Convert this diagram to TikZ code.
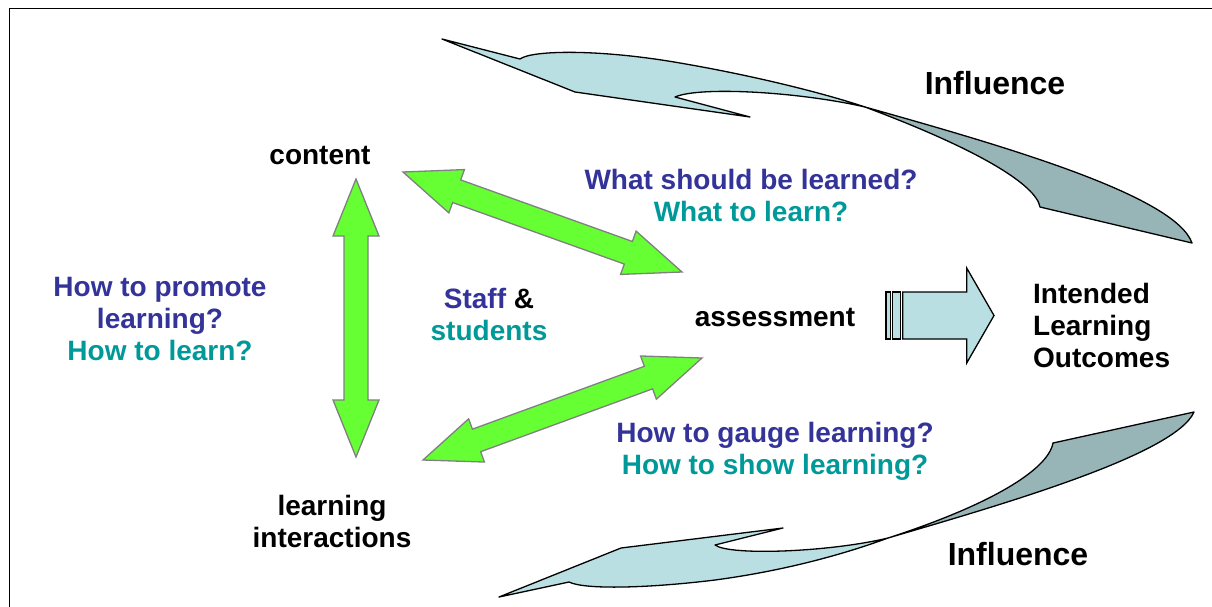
\documentclass[tikz,border=0pt]{standalone}
\usepackage{fontspec}
\setmainfont{Liberation Sans}
\usetikzlibrary{calc}
\definecolor{qblue}{HTML}{333399}
\definecolor{qteal}{HTML}{009999}
\definecolor{agreen}{HTML}{66FF33}
\definecolor{agray}{HTML}{808080}
\definecolor{palecyan}{HTML}{B9DFE3}
\definecolor{duskteal}{HTML}{97B4B7}
\tikzset{
  lbl/.style={inner sep=0pt, font=\fontsize{28}{32}\selectfont\bfseries, align=center},
  infl/.style={inner sep=0pt, font=\fontsize{32}{36}\selectfont\bfseries},
  garrow/.style={fill=agreen, draw=agray, line width=1.3pt, line join=miter},
  blockarr/.style={fill=palecyan, draw=black, line width=1.3pt},
  curvelight/.style={fill=palecyan, draw=black, line width=1.3pt, line join=round},
  curvedark/.style={fill=duskteal, draw=black, line width=1.3pt, line join=round}
}
\newcommand\greenarrow[2]{%
  \filldraw[garrow] (#1)
   -- ($(#1)!57pt!(#2)!23pt!90:(#2)$)
   -- ($(#1)!57pt!(#2)!12pt!90:(#2)$)
   -- ($(#2)!57pt!(#1)!12pt!-90:(#1)$)
   -- ($(#2)!57pt!(#1)!23pt!-90:(#1)$)
   -- (#2)
   -- ($(#2)!57pt!(#1)!23pt!90:(#1)$)
   -- ($(#2)!57pt!(#1)!12pt!90:(#1)$)
   -- ($(#1)!57pt!(#2)!12pt!-90:(#2)$)
   -- ($(#1)!57pt!(#2)!23pt!-90:(#2)$)
   -- cycle;}
\begin{document}
\begin{tikzpicture}[x=1pt,y=-1pt]
\useasboundingbox (0,0) rectangle (1212,606);
\clip (0,0) rectangle (1212,606);
\fill[white] (0,0) rectangle (1212,606);
% frame
\draw[line width=1.8pt] (9.5,8.5) rectangle (1240,640);

% top curved "influence" arrow
\filldraw[curvelight] (442,39) -- (520,59)
  .. controls (532,50) and (600,49) .. (680,63)
  .. controls (750,75) and (820,92) .. (865,107)
  .. controls (800,92) and (700,86) .. (675,97)
  -- (750,117) -- (575,92) -- cycle;
\filldraw[curvedark] (865,107)
  .. controls (1000,145) and (1175,195) .. (1192,243)
  -- (1040,207)
  .. controls (1036,185) and (980,150) .. (865,107) -- cycle;

% bottom curved "influence" arrow
\filldraw[curvelight] (499,597) -- (569,582)
  .. controls (585,590) and (650,588) .. (715,580)
  .. controls (790,570) and (850,552) .. (888,538)
  .. controls (830,552) and (730,556) .. (715,545)
  -- (783,528) -- (621,548) -- cycle;
\filldraw[curvedark] (888,538)
  .. controls (1000,505) and (1175,455) .. (1194,412)
  -- (1053,443)
  .. controls (1048,470) and (990,505) .. (888,538) -- cycle;

% text nodes
\node[lbl] (content) at (320,155) {content};
\node[lbl] (assess) at (775,317) {assessment};
\node[lbl] (interact) at (332,521) {learning\\interactions};
\node[lbl, align=left, anchor=west] (ilo) at (1033,325) {Intended\\Learning\\Outcomes};
\node[lbl] (promote) at (160,319) {\textcolor{qblue}{How to promote}\\\textcolor{qblue}{learning?}\\\textcolor{qteal}{How to learn?}};
\node[lbl] (staff) at (489,314) {\textcolor{qblue}{Staff} \&\\\textcolor{qteal}{students}};
\node[lbl] (what) at (751,195) {\textcolor{qblue}{What should be learned?}\\\textcolor{qteal}{What to learn?}};
\node[lbl] (gauge) at (775,451) {\textcolor{qblue}{How to gauge learning?}\\\textcolor{qteal}{How to show learning?}};
\node[infl] (inflA) at (995,83) {Influence};
\node[infl] (inflB) at (1018,554) {Influence};

% green double arrows
\coordinate (vTop) at (356,179);
\coordinate (vBot) at (356,457);
\coordinate (dTopL) at (403,172);
\coordinate (dTopR) at (682,272);
\coordinate (dBotR) at (702,358);
\coordinate (dBotL) at (423,460);
\greenarrow{vTop}{vBot}
\greenarrow{dTopL}{dTopR}
\greenarrow{dBotR}{dBotL}

% block arrow to outcomes
\filldraw[blockarr] (886,292) rectangle (890.7,339);
\filldraw[blockarr] (892.7,292) rectangle (900.7,339);
\filldraw[blockarr] (902.7,292) -- (966.7,292) -- (966.7,268) -- (994,315.5)
  -- (966.7,363) -- (966.7,339) -- (902.7,339) -- cycle;
\end{tikzpicture}
\end{document}
